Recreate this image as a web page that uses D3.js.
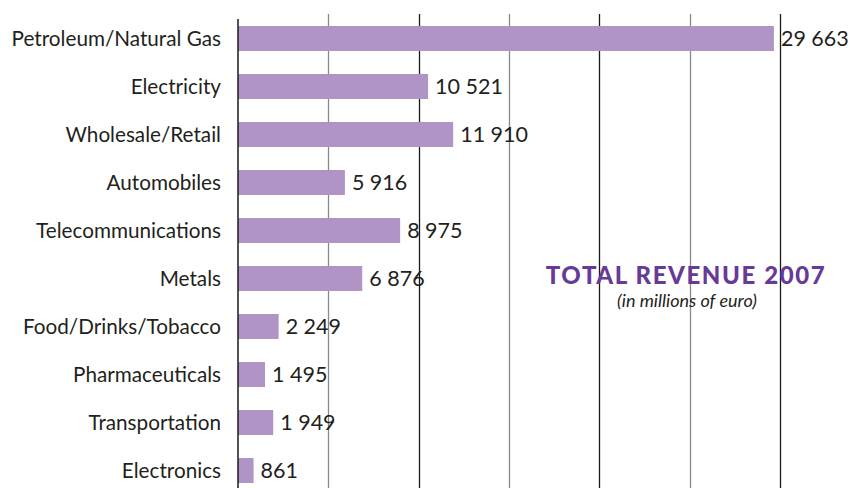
<!DOCTYPE html>
<html>
<head>
<meta charset="utf-8">
<script src="https://cdn.jsdelivr.net/npm/d3@7/dist/d3.min.js"></script>
<style>
  html, body { margin: 0; padding: 0; background: #fff; }
  svg { display: block; }
</style>
</head>
<body>
<script>
const categories = ["Petroleum/Natural Gas", "Electricity", "Wholesale/Retail", "Automobiles",
  "Telecommunications", "Metals", "Food/Drinks/Tobacco", "Pharmaceuticals", "Transportation", "Electronics"];
const revenue = [29663, 10521, 11910, 5916, 8975, 6876, 2249, 1495, 1949, 861];
const gridTicks = [5000, 10000, 15000, 20000, 25000, 30000];
const titleText = "TOTAL REVENUE 2007";
const subtitleText = "(in millions of euro)";

const W = 851, H = 488;
const svg = d3.select("body").append("svg").attr("width", W).attr("height", H);

const x = d3.scaleLinear().domain([0, 30000]).range([238, 780]);
const y = d3.scaleBand().domain(categories).range([14.5, 494.5])
  .paddingInner(23 / 48).paddingOuter(23 / 96);

const fmt = d3.formatLocale({ decimal: ".", thousands: " ", grouping: [3], currency: ["", ""] }).format(",d");
const font = "Lato, 'Open Sans', sans-serif";

// grid lines
svg.append("g").selectAll("line").data(gridTicks).join("line")
  .attr("x1", d => Math.round(x(d)) + 0.5).attr("x2", d => Math.round(x(d)) + 0.5)
  .attr("y1", 14).attr("y2", H)
  .attr("stroke", d => (d / 5000) % 2 === 0 ? "#1a1a1a" : "#8a8a8a")
  .attr("stroke-width", 1.3);

// bars
svg.append("g").selectAll("rect").data(categories).join("rect")
  .attr("x", x(0))
  .attr("y", d => y(d))
  .attr("width", (d, i) => x(revenue[i]) - x(0))
  .attr("height", y.bandwidth())
  .attr("fill", "#b094c5");

// axis line
svg.append("line")
  .attr("x1", x(0)).attr("x2", x(0)).attr("y1", 19).attr("y2", H)
  .attr("stroke", "#1a1a1a").attr("stroke-width", 1.5);

// category labels
svg.append("g").selectAll("text").data(categories).join("text")
  .attr("x", 221)
  .attr("y", d => y(d) + y.bandwidth() / 2)
  .attr("dy", "0.36em")
  .attr("text-anchor", "end")
  .attr("font-family", font).attr("font-size", 20.7)
  .attr("fill", "#231f20")
  .text(d => d);

// value labels
svg.append("g").selectAll("text").data(categories).join("text")
  .attr("x", (d, i) => x(revenue[i]) + 7)
  .attr("y", d => y(d) + y.bandwidth() / 2)
  .attr("dy", "0.36em")
  .attr("font-family", font).attr("font-size", 21.5)
  .attr("fill", "#231f20")
  .text((d, i) => fmt(revenue[i]));

// title
svg.append("text")
  .attr("x", 686).attr("y", 284)
  .attr("text-anchor", "middle")
  .attr("font-family", font).attr("font-size", 24).attr("font-weight", 900)
  .attr("letter-spacing", 1.6)
  .attr("fill", "#663a96")
  .text(titleText);
svg.append("text")
  .attr("x", 687).attr("y", 307)
  .attr("text-anchor", "middle")
  .attr("font-family", font).attr("font-size", 18).attr("font-style", "italic")
  .attr("fill", "#231f20")
  .text(subtitleText);
</script>
</body>
</html>
